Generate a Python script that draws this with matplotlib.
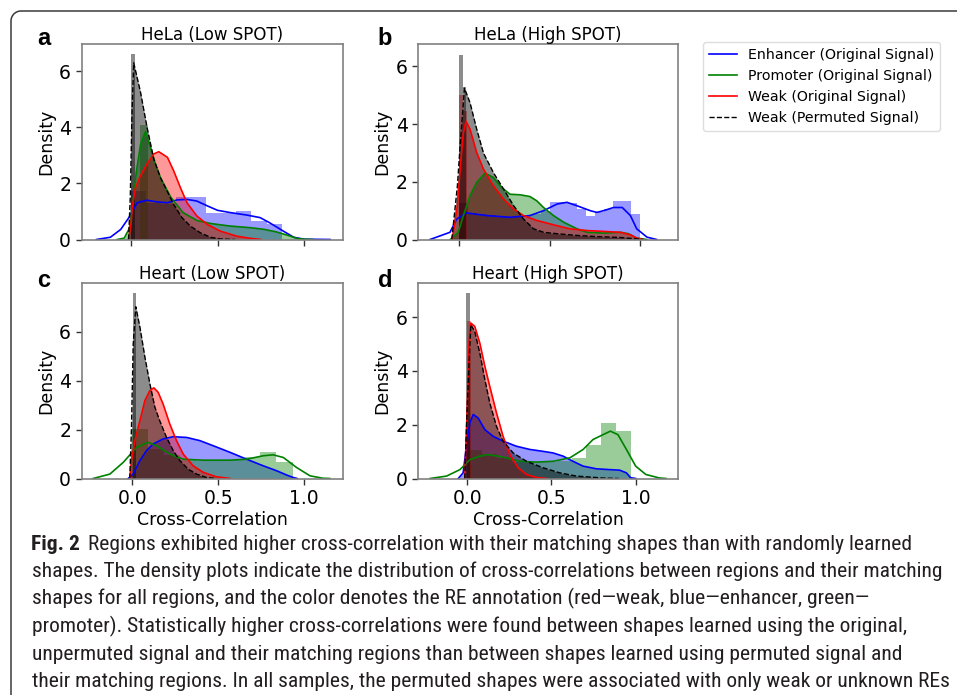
import numpy as np
import matplotlib
matplotlib.use('Agg')
import matplotlib.pyplot as plt
from matplotlib.lines import Line2D
from matplotlib import font_manager

W, H = 957, 695

# ---------------- datos ----------------
# Panel a: HeLa (Low SPOT)
a_enh_x = [-0.2, -0.12, -0.06, -0.013, 0.035, 0.09, 0.15, 0.21, 0.265, 0.323, 0.38, 0.44, 0.5, 0.573, 0.67, 0.746, 0.8, 0.88, 0.94, 1.0, 1.15]
a_enh_y = [0, 0.08, 0.36, 0.78, 1.31, 1.4, 1.34, 1.31, 1.41, 1.43, 1.37, 1.2, 1.04, 0.96, 0.87, 0.78, 0.6, 0.3, 0.08, 0.01, 0]
a_enh_edges = [0, 0.087, 0.174, 0.261, 0.348, 0.435, 0.522, 0.609, 0.696, 0.783, 0.87]
a_enh_hist = [1.73, 1.31, 1.25, 1.53, 1.53, 0.96, 0.96, 1.02, 0.66, 0.57]
a_pro_x = [-0.08, -0.04, -0.01, 0.01, 0.03, 0.055, 0.083, 0.11, 0.14, 0.17, 0.23, 0.3, 0.38, 0.46, 0.57, 0.69, 0.77, 0.84, 0.9, 0.96, 1.0, 1.05]
a_pro_y = [0, 0.05, 0.4, 1.3, 2.4, 3.4, 3.85, 3.3, 2.7, 2.2, 1.5, 0.96, 0.68, 0.57, 0.48, 0.42, 0.36, 0.27, 0.16, 0.04, 0.01, 0]
a_pro_edges = [0.054, 0.096]
a_pro_hist = [4.08]
a_weak_x = [-0.015, 0.0, 0.006, 0.025, 0.054, 0.092, 0.131, 0.16, 0.21, 0.246, 0.285, 0.323, 0.38, 0.44, 0.515, 0.61, 0.69, 0.75]
a_weak_y = [0, 0.6, 1.13, 1.85, 2.27, 2.69, 3.05, 3.13, 2.93, 2.45, 1.85, 1.31, 0.84, 0.54, 0.3, 0.12, 0.04, 0]
a_perm_x = [-0.015, -0.005, 0.005, 0.015, 0.054, 0.092, 0.131, 0.169, 0.208, 0.246, 0.294, 0.342, 0.4, 0.458, 0.515, 0.6]
a_perm_y = [0, 1.5, 4.5, 6.3, 5.26, 4.0, 2.87, 2.21, 1.73, 1.25, 0.78, 0.48, 0.24, 0.08, 0.02, 0]
a_perm_edges = [0, 0.02]
a_perm_hist = [6.63]

# Panel b: HeLa (High SPOT)
b_enh_x = [-0.162, -0.052, -0.015, 0.04, 0.151, 0.28, 0.39, 0.465, 0.54, 0.594, 0.65, 0.723, 0.76, 0.797, 0.852, 0.9, 0.945, 0.98, 1.037, 1.09]
b_enh_y = [0, 0.25, 0.71, 0.92, 0.83, 0.77, 0.83, 1.0, 1.23, 1.29, 1.17, 1.0, 0.94, 1.0, 1.11, 1.11, 0.83, 0.37, 0.08, 0]
b_enh_edges = [0.0, 0.05, 0.1, 0.15, 0.2, 0.25, 0.3, 0.35, 0.4, 0.45, 0.5, 0.55, 0.6, 0.65, 0.7, 0.75, 0.8, 0.85, 0.9, 0.95, 1.0]
b_enh_hist = [1.25, 0.93, 0.9, 0.85, 0.8, 0.78, 0.78, 0.8, 0.88, 1.0, 1.31, 1.31, 1.28, 1.05, 0.83, 0.95, 1.05, 1.34, 1.34, 0.89]
b_pro_x = [-0.05, -0.006, 0.022, 0.059, 0.096, 0.142, 0.188, 0.234, 0.28, 0.336, 0.39, 0.428, 0.465, 0.52, 0.576, 0.65, 0.705, 0.8, 0.89, 0.935, 0.98, 1.035]
b_pro_y = [0, 0.25, 0.83, 1.52, 1.98, 2.3, 2.15, 1.8, 1.57, 1.55, 1.49, 1.34, 1.11, 0.83, 0.6, 0.37, 0.25, 0.22, 0.25, 0.2, 0.05, 0]
b_weak_x = [-0.04, -0.011, 0.004, 0.022, 0.037, 0.059, 0.096, 0.133, 0.188, 0.244, 0.3, 0.354, 0.428, 0.52, 0.61, 0.705, 0.8, 0.89, 0.945, 0.98, 1.01]
b_weak_y = [0, 1.17, 2.44, 3.7, 4.1, 3.82, 3.01, 2.44, 1.86, 1.4, 1.06, 0.83, 0.66, 0.51, 0.37, 0.31, 0.28, 0.25, 0.16, 0.05, 0]
b_weak_edges = [0, 0.02, 0.04]
b_weak_hist = [5.0, 4.45]
b_perm_x = [-0.042, -0.011, 0.004, 0.028, 0.059, 0.096, 0.133, 0.188, 0.244, 0.3, 0.354, 0.41, 0.465, 0.54, 0.65, 0.76, 0.89, 0.98, 1.015]
b_perm_y = [0, 1.86, 3.24, 5.25, 4.74, 3.82, 3.0, 2.32, 1.75, 1.17, 0.71, 0.37, 0.25, 0.2, 0.14, 0.1, 0.07, 0.02, 0]
b_perm_edges = [0, 0.018, 0.036]
b_perm_hist = [6.4, 5.3]

# Panel c: Heart (Low SPOT)
c_enh_x = [-0.023, 0.006, 0.045, 0.083, 0.122, 0.18, 0.239, 0.317, 0.394, 0.472, 0.57, 0.666, 0.763, 0.84, 0.9, 0.938, 0.96]
c_enh_y = [0, 0.18, 0.73, 1.14, 1.41, 1.62, 1.71, 1.68, 1.55, 1.34, 1.07, 0.79, 0.52, 0.32, 0.14, 0.04, 0]
c_pro_x = [-0.227, -0.13, -0.052, 0.025, 0.093, 0.142, 0.22, 0.297, 0.414, 0.57, 0.666, 0.763, 0.82, 0.88, 0.957, 1.035, 1.11, 1.15]
c_pro_y = [0, 0.18, 0.66, 1.27, 1.48, 1.34, 1.0, 0.79, 0.75, 0.75, 0.79, 0.93, 0.97, 0.86, 0.45, 0.11, 0.01, 0]
c_pro_edges = [0, 0.093, 0.187, 0.28, 0.374, 0.467, 0.56, 0.654, 0.747, 0.84, 0.934]
c_pro_hist = [2.03, 1.2, 0.95, 0.75, 0.72, 0.72, 0.75, 0.89, 1.07, 0.66]
c_weak_x = [-0.014, -0.004, 0.016, 0.045, 0.074, 0.103, 0.126, 0.151, 0.18, 0.219, 0.258, 0.297, 0.355, 0.414, 0.49, 0.57]
c_weak_y = [0, 0.73, 1.55, 2.37, 3.19, 3.6, 3.71, 3.53, 3.05, 2.23, 1.55, 1.0, 0.52, 0.25, 0.07, 0]
c_perm_x = [-0.014, -0.004, 0.006, 0.021, 0.045, 0.074, 0.103, 0.132, 0.16, 0.2, 0.239, 0.278, 0.326, 0.375, 0.433, 0.49]
c_perm_y = [0, 2.1, 5.5, 7.03, 6.2, 4.97, 3.88, 2.92, 2.37, 1.68, 1.14, 0.73, 0.38, 0.18, 0.04, 0]
c_perm_edges = [0.004, 0.025]
c_perm_hist = [7.6]

# Panel d: Heart (High SPOT)
d_enh_x = [-0.053, -0.024, -0.004, 0.016, 0.036, 0.065, 0.105, 0.154, 0.213, 0.292, 0.372, 0.45, 0.51, 0.57, 0.628, 0.688, 0.767, 0.846, 0.905, 0.945, 0.97, 1.0]
d_enh_y = [0, 0.21, 1.2, 2.07, 2.38, 2.25, 1.82, 1.57, 1.39, 1.2, 1.08, 1.01, 0.95, 0.83, 0.64, 0.46, 0.36, 0.33, 0.31, 0.21, 0.03, 0]
d_pro_x = [-0.22, -0.122, -0.043, 0.016, 0.075, 0.124, 0.213, 0.312, 0.41, 0.51, 0.61, 0.688, 0.747, 0.806, 0.85, 0.895, 0.945, 1.0, 1.06, 1.14, 1.18]
d_pro_y = [0, 0.09, 0.33, 0.7, 0.83, 0.89, 0.8, 0.64, 0.61, 0.64, 0.77, 1.08, 1.45, 1.63, 1.76, 1.63, 1.08, 0.46, 0.15, 0.02, 0]
d_pro_edges = [0, 0.0885, 0.177, 0.266, 0.354, 0.443, 0.531, 0.62, 0.708, 0.797, 0.885, 0.974]
d_pro_hist = [1.05, 0.9, 0.75, 0.62, 0.6, 0.62, 0.65, 0.75, 1.26, 2.07, 1.76]
d_weak_x = [-0.014, 0.0, 0.012, 0.022, 0.045, 0.075, 0.105, 0.134, 0.174, 0.213, 0.253, 0.302, 0.352, 0.41, 0.47]
d_weak_y = [0, 2.56, 5.04, 5.78, 5.66, 5.04, 4.17, 3.43, 2.44, 1.57, 0.89, 0.4, 0.15, 0.04, 0]
d_weak_edges = [0, 0.02]
d_weak_hist = [5.84]
d_perm_x = [-0.014, -0.004, 0.012, 0.022, 0.045, 0.075, 0.105, 0.134, 0.174, 0.213, 0.273, 0.352, 0.45, 0.55, 0.648, 0.8, 0.9]
d_perm_y = [0, 1.94, 4.42, 5.72, 5.47, 4.67, 3.68, 2.81, 1.94, 1.39, 0.95, 0.64, 0.4, 0.21, 0.09, 0.02, 0]
d_perm_edges = [-0.004, 0.016]
d_perm_hist = [6.9]

titles = ['HeLa (Low SPOT)', 'HeLa (High SPOT)', 'Heart (Low SPOT)', 'Heart (High SPOT)']
letters = ['a', 'b', 'c', 'd']
legend_labels = ['Enhancer (Original Signal)', 'Promoter (Original Signal)',
                 'Weak (Original Signal)', 'Weak (Permuted Signal)']

caption_bold = 'Fig. 2'
caption_lines = [
    'Regions exhibited higher cross-correlation with their matching shapes than with randomly learned',
    'shapes. The density plots indicate the distribution of cross-correlations between regions and their matching',
    'shapes for all regions, and the color denotes the RE annotation (red\u2014weak, blue\u2014enhancer, green\u2014',
    'promoter). Statistically higher cross-correlations were found between shapes learned using the original,',
    'unpermuted signal and their matching regions than between shapes learned using permuted signal and',
    'their matching regions. In all samples, the permuted shapes were associated with only weak or unknown REs',
]

# ---------------- figura ----------------
fig = plt.figure(figsize=(W / 100, H / 100), dpi=100)

bg = fig.add_axes([0, 0, 1, 1])
bg.set_xlim(0, W)
bg.set_ylim(H, 0)
bg.axis('off')

# marco redondeado (solo esquina superior izquierda visible)
rad = 10
ang = np.linspace(np.pi, 1.5 * np.pi, 20)
fx = np.concatenate([[11], 11 + rad + rad * np.cos(ang), [W + 5]])
fy = np.concatenate([[H + 5], 11 + rad + rad * np.sin(ang), [11]])
bg.plot(fx, fy, color='#3a3a3a', lw=1.1, solid_capstyle='butt')


def px_axes(l, t, r, b):
    return fig.add_axes([l / W, 1 - b / H, (r - l) / W, (b - t) / H])


def serie(ax, x, y, color, edges=None, hist=None, fill=False, ls='-', alpha=0.4):
    if edges is not None:
        ax.bar(edges[:-1], hist, width=np.diff(edges), align='edge', color=color,
               alpha=alpha, linewidth=0)
    if fill:
        ax.fill_between(x, y, 0, color=color, alpha=alpha, linewidth=0)
    ax.plot(x, y, color=color, lw=1.2 if ls == '-' else 1.0, ls=ls)


boxes = [(81.5, 44, 343.3, 239.5), (418.3, 44, 677.8, 239.5),
         (81.5, 283.3, 343.3, 478.5), (418.3, 283.3, 677.8, 478.5)]
xlims = [(-0.287, 1.227), (-0.227, 1.207), (-0.295, 1.229), (-0.29, 1.25)]
ylims = [6.97, 6.78, 7.99, 7.26]

axes = [px_axes(*bx) for bx in boxes]

# a
ax = axes[0]
serie(ax, a_enh_x, a_enh_y, 'blue', a_enh_edges, a_enh_hist)
serie(ax, a_pro_x, a_pro_y, 'green', a_pro_edges, a_pro_hist, fill=True)
serie(ax, a_weak_x, a_weak_y, 'red', fill=True)
serie(ax, a_perm_x, a_perm_y, 'black', a_perm_edges, a_perm_hist, fill=True, ls='--', alpha=0.45)
# b
ax = axes[1]
serie(ax, b_enh_x, b_enh_y, 'blue', b_enh_edges, b_enh_hist)
serie(ax, b_pro_x, b_pro_y, 'green', fill=True)
serie(ax, b_weak_x, b_weak_y, 'red', b_weak_edges, b_weak_hist, fill=True)
serie(ax, b_perm_x, b_perm_y, 'black', b_perm_edges, b_perm_hist, fill=True, ls='--', alpha=0.45)
# c
ax = axes[2]
serie(ax, c_enh_x, c_enh_y, 'blue', fill=True)
serie(ax, c_pro_x, c_pro_y, 'green', c_pro_edges, c_pro_hist)
serie(ax, c_weak_x, c_weak_y, 'red', fill=True)
serie(ax, c_perm_x, c_perm_y, 'black', c_perm_edges, c_perm_hist, fill=True, ls='--', alpha=0.45)
# d
ax = axes[3]
serie(ax, d_enh_x, d_enh_y, 'blue', fill=True)
serie(ax, d_pro_x, d_pro_y, 'green', d_pro_edges, d_pro_hist)
serie(ax, d_weak_x, d_weak_y, 'red', d_weak_edges, d_weak_hist, fill=True)
serie(ax, d_perm_x, d_perm_y, 'black', d_perm_edges, d_perm_hist, fill=True, ls='--', alpha=0.45)

for i, ax in enumerate(axes):
    ax.set_xlim(*xlims[i])
    ax.set_ylim(0, ylims[i])
    ax.set_xticks([0.0, 0.5, 1.0])
    ax.set_yticks([0, 2, 4, 6])
    ax.tick_params(labelsize=13.5, length=4, width=1, color='#333333')
    for s in ax.spines.values():
        s.set_color('#808080')
        s.set_linewidth(1.2)
    ax.set_title(titles[i], fontsize=12, pad=3)
    ax.set_ylabel('Density', fontsize=12.5, labelpad=3)
    if i < 2:
        ax.tick_params(labelbottom=False)
    else:
        ax.set_xlabel('Cross-Correlation', fontsize=12.5, labelpad=2)

# letras de panel
for (x, y), l in zip([(37, 45), (377, 45), (37, 287), (378, 287)], letters):
    bg.text(x, y, l, fontsize=17, fontweight='bold', family='Liberation Sans', va='baseline')

# leyenda
handles = [Line2D([], [], color='blue', lw=1.2), Line2D([], [], color='green', lw=1.2),
           Line2D([], [], color='red', lw=1.2), Line2D([], [], color='black', lw=1.0, ls='--')]
fig.legend(handles, legend_labels, loc='upper left', bbox_to_anchor=(703 / W, 1 - 42 / H),
           fontsize=10.2, borderaxespad=0, framealpha=1, edgecolor='#dddddd')

# pie de figura: fuente estrecha si existe
installed = {f.name for f in font_manager.fontManager.ttflist}
cap_font = 'Lato'
for cand in ['Liberation Sans Narrow', 'Roboto Condensed', 'Open Sans Condensed', 'DejaVu Sans Condensed', 'Lato']:
    if cand in installed:
        cap_font = cand
        break
cap_family = [cap_font, 'DejaVu Sans']

r = fig.canvas.get_renderer()
probe = bg.text(0, 0, caption_lines[1], fontsize=13, family=cap_family)
w13 = probe.get_window_extent(r).width
probe.remove()
fs = 13 * 906 / w13

baselines = [550, 577.4, 604.8, 632.2, 659.6, 687]
fb = bg.text(31, baselines[0], caption_bold, fontsize=fs, fontweight='bold', family=cap_family,
             va='baseline', color='#231f20')
fb_right = fb.get_window_extent(r).x1
for i, line in enumerate(caption_lines):
    x0 = max(80, fb_right + 8) if i == 0 else 32
    bg.text(x0, baselines[i], line, fontsize=fs, family=cap_family, va='baseline', color='#231f20')

fig.savefig('out.png', dpi=100)
